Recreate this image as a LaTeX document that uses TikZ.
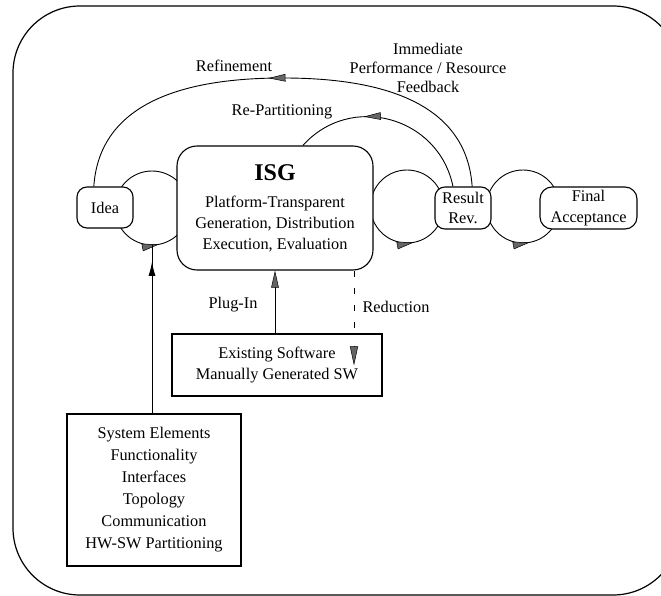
\documentclass[tikz,border=0pt]{standalone}
\usepackage{fontspec}
\setmainfont{Liberation Serif}
\usetikzlibrary{arrows.meta,decorations.markings}
\tikzset{
  hatch/.tip={Triangle[length=17pt,width=7.5pt,fill=black!60,line width=0.5pt]},
  rbox/.style={draw,line width=1.1pt,fill=white,rounded corners=10pt,align=center,inner sep=2pt},
  sbox/.style={draw,line width=1.1pt,fill=white,align=center},
  revmark/.style={postaction={decorate},decoration={markings,mark=at position #1 with {\arrowreversed{hatch}}}}
}
\begin{document}
\begin{tikzpicture}[x=1pt,y=-1pt,font=\fontsize{16.3}{20.5}\selectfont]
  \useasboundingbox (0,0) rectangle (661,596);
  \clip (0,0) rectangle (661,596);
  \draw[line width=1.2pt,rounded corners=67pt] (13,6) rectangle (680,595);

  % loops, drawn first so that the boxes hide them
  \draw[line width=0.9pt,revmark=0.22] (152,208) circle[radius=37];
  \draw[line width=0.9pt,revmark=0.22] (407,206.5) circle[radius=36.5];
  \draw[line width=0.9pt,revmark=0.22] (523,206.5) circle[radius=36.5];

  \node[rbox,minimum width=56pt,minimum height=41pt] (idea) at (105,207.5) {Idea};
  \node[rbox,rounded corners=20pt,minimum width=196pt,minimum height=124pt,font=\fontsize{16.3}{21}\selectfont] (isg) at (275,208)
    {{\fontsize{24}{28}\selectfont\bfseries ISG}\\[6pt] Platform-Transparent\\ Generation, Distribution\\ Execution, Evaluation};
  \node[rbox,minimum width=56pt,minimum height=42pt] (result) at (463,208) {Result\\Rev.};
  \node[rbox,rounded corners=12pt,minimum width=97pt,minimum height=42pt] (final) at (588.5,208) {Final\\Acceptance};
  \node[sbox,minimum width=210pt,minimum height=62pt] (soft) at (277,365) {Existing Software\\Manually Generated SW};
  \node[sbox,minimum width=174pt,minimum height=152pt,font=\fontsize{16.3}{22}\selectfont] (sys) at (154,490)
    {System Elements\\ Functionality\\ Interfaces\\ Topology\\ Communication\\ HW-SW Partitioning};

  \node (refine) at (234,66) {Refinement};
  \node (repart) at (282,112) {Re-Partitioning};
  \node[align=center,font=\fontsize{16.3}{19}\selectfont] (feedback) at (428,68) {Immediate\\ Performance / Resource\\ Feedback};
  \node (plugin) at (233,305) {Plug-In};
  \node (reduce) at (396,307) {Reduction};

  % feedback arcs
  \draw[line width=0.9pt,revmark=0.47] (idea.118) .. controls (100,95) and (200,78) .. (283,78)
    .. controls (366,78) and (466,95) .. (result.67);
  \draw[line width=0.9pt,revmark=0.36] (isg.66) .. controls (350.7,92.2) and (438.7,116.6) .. (result.115);

  % inputs
  \coordinate (ideabot) at (152,245);
  \draw[line width=0.9pt,postaction={decorate},decoration={markings,mark=at position 0.9 with {\arrow{Latex[length=14pt,width=7pt]}}}]
    (sys.north -| ideabot) -- (ideabot);
  \draw[line width=0.9pt,-hatch] (soft.north -| isg.south) -- (isg.south);
  \coordinate (redx) at (354,0);
  \draw[line width=0.8pt,dash pattern=on 6pt off 11pt] (isg.south -| redx) -- (soft.north -| redx);
  \draw[line width=0.8pt,-{hatch[length=19pt,width=8pt]}] ([yshift=-13pt]soft.north -| redx) -- ([yshift=-32pt]soft.north -| redx);
\end{tikzpicture}
\end{document}
